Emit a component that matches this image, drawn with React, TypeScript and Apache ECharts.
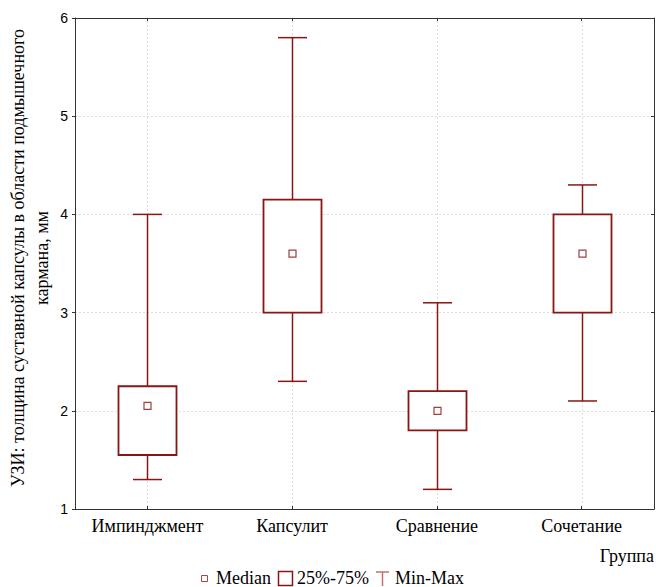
import React, { useEffect, useRef } from "react";
import * as echarts from "echarts";

const categories = ["Импинджмент", "Капсулит", "Сравнение", "Сочетание"];
const minValues = [1.3, 2.3, 1.2, 2.1];
const q1Values = [1.55, 3.0, 1.8, 3.0];
const medianValues = [2.05, 3.6, 2.0, 3.6];
const q3Values = [2.25, 4.15, 2.2, 4.0];
const maxValues = [4.0, 5.8, 3.1, 4.3];
const yTicks = [1, 2, 3, 4, 5, 6];

const RED = "#8b1414";
const SERIF = "'Liberation Serif', 'Times New Roman', serif";
const SANS = "'Liberation Sans', Arial, sans-serif";
const AXIS = "#333";

export default function App() {
  const ref = useRef<HTMLDivElement>(null);
  useEffect(() => {
    if (!ref.current) return;
    const chart = echarts.init(ref.current, undefined, { renderer: "svg" });
    const boxData = categories.map((_, i) => [
      i,
      minValues[i],
      q1Values[i],
      medianValues[i],
      q3Values[i],
      maxValues[i],
    ]);
    const yMin = yTicks[0];
    const yMax = yTicks[yTicks.length - 1];
    const txt = (text: string, x: number, y: number, extra: any = {}) => ({
      type: "text",
      x,
      y,
      style: { text, font: `18px ${SERIF}`, fill: "#000", verticalAlign: "middle", ...extra },
    });
    chart.setOption({
      animation: false,
      grid: { left: 75, right: 2, top: 18, bottom: 78 },
      xAxis: [
        {
          type: "category",
          data: categories,
          boundaryGap: true,
          axisLine: { show: true, lineStyle: { color: AXIS } },
          axisTick: { show: true, inside: true, alignWithLabel: true, length: 3, lineStyle: { color: AXIS } },
          axisLabel: { interval: 0, fontFamily: SERIF, fontSize: 18, color: "#000", margin: 8 },
          splitLine: { show: false },
        },
        {
          type: "category",
          position: "top",
          data: categories,
          boundaryGap: true,
          axisLine: { show: true, onZero: false, lineStyle: { color: AXIS } },
          axisTick: { show: true, inside: true, alignWithLabel: true, length: 3, lineStyle: { color: AXIS } },
          axisLabel: { show: false },
          splitLine: { show: false },
        },
      ],
      yAxis: [
        {
          type: "value",
          min: yMin,
          max: yMax,
          interval: 1,
          axisLine: { show: true, lineStyle: { color: AXIS } },
          axisTick: { show: true, length: 3, lineStyle: { color: AXIS } },
          axisLabel: { fontFamily: SANS, fontSize: 14, color: "#000", margin: 7 },
          splitLine: { show: true, lineStyle: { color: "#dcdcdc", type: [2, 2], width: 1 } },
        },
        {
          type: "value",
          position: "right",
          min: yMin,
          max: yMax,
          interval: 1,
          axisLine: { show: true, onZero: false, lineStyle: { color: AXIS } },
          axisTick: { show: true, inside: true, length: 3, lineStyle: { color: AXIS } },
          axisLabel: { show: false },
          splitLine: { show: false },
        },
      ],
      graphic: [
        {
          type: "text",
          x: 18,
          y: 258,
          rotation: Math.PI / 2,
          style: {
            text: "УЗИ: толщина суставной капсулы в области подмышечного",
            font: `18px ${SERIF}`,
            fill: "#000",
            align: "center",
            verticalAlign: "middle",
          },
        },
        {
          type: "text",
          x: 42,
          y: 258,
          rotation: Math.PI / 2,
          style: {
            text: "кармана, мм",
            font: `18px ${SERIF}`,
            fill: "#000",
            align: "center",
            verticalAlign: "middle",
          },
        },
        txt("Группа", 654, 556, { align: "right" }),
        {
          type: "rect",
          shape: { x: 201.5, y: 575.5, width: 6, height: 6 },
          style: { fill: "#fff", stroke: "#a04848", lineWidth: 1 },
        },
        txt("Median", 216, 578),
        {
          type: "rect",
          shape: { x: 278.5, y: 571.5, width: 14, height: 14 },
          style: { fill: "#fff", stroke: RED, lineWidth: 1.5 },
        },
        txt("25%-75%", 297, 578),
        {
          type: "polyline",
          shape: { points: [[376, 572], [389, 572]] },
          style: { stroke: "#c07070", lineWidth: 1.5 },
        },
        {
          type: "polyline",
          shape: { points: [[382.5, 572], [382.5, 586]] },
          style: { stroke: "#c07070", lineWidth: 1.5 },
        },
        txt("Min-Max", 395, 578),
      ],
      series: [
        {
          type: "custom",
          name: "box",
          data: boxData,
          encode: { x: 0, y: [1, 2, 3, 4, 5] },
          renderItem: (params: any, api: any) => {
            const x = api.value(0);
            const pMin = api.coord([x, api.value(1)]);
            const pQ1 = api.coord([x, api.value(2)]);
            const pMed = api.coord([x, api.value(3)]);
            const pQ3 = api.coord([x, api.value(4)]);
            const pMax = api.coord([x, api.value(5)]);
            const gTop = api.coord([x, yMax]);
            const gBot = api.coord([x, yMin]);
            const cx = Math.round(pMin[0]) + 0.5;
            const boxW = 58;
            const capW = 29;
            const children: any[] = [
              {
                type: "line",
                shape: { x1: cx, y1: gTop[1] + 3, x2: cx, y2: gBot[1] - 3 },
                style: { stroke: "#dcdcdc", lineWidth: 1, lineDash: [2, 2] },
              },
              {
                type: "line",
                shape: { x1: cx, y1: pMax[1], x2: cx, y2: pMin[1] },
                style: { stroke: RED, lineWidth: 1.5 },
              },
              {
                type: "line",
                shape: { x1: cx - capW / 2, y1: pMax[1], x2: cx + capW / 2, y2: pMax[1] },
                style: { stroke: RED, lineWidth: 1.5 },
              },
              {
                type: "line",
                shape: { x1: cx - capW / 2, y1: pMin[1], x2: cx + capW / 2, y2: pMin[1] },
                style: { stroke: RED, lineWidth: 1.5 },
              },
              {
                type: "rect",
                shape: { x: cx - boxW / 2, y: pQ3[1], width: boxW, height: pQ1[1] - pQ3[1] },
                style: { fill: "#fff", stroke: RED, lineWidth: 1.8 },
              },
              {
                type: "rect",
                shape: { x: cx - 3.5, y: pMed[1] - 3.5, width: 7, height: 7 },
                style: { fill: "#fff", stroke: "#a04040", lineWidth: 1.2 },
              },
            ];
            return { type: "group", children };
          },
        },
      ],
    });
    return () => chart.dispose();
  }, []);
  return (
    <div
      ref={ref}
      style={{ position: "absolute", left: 0, top: 0, width: 656, height: 587 }}
    />
  );
}
